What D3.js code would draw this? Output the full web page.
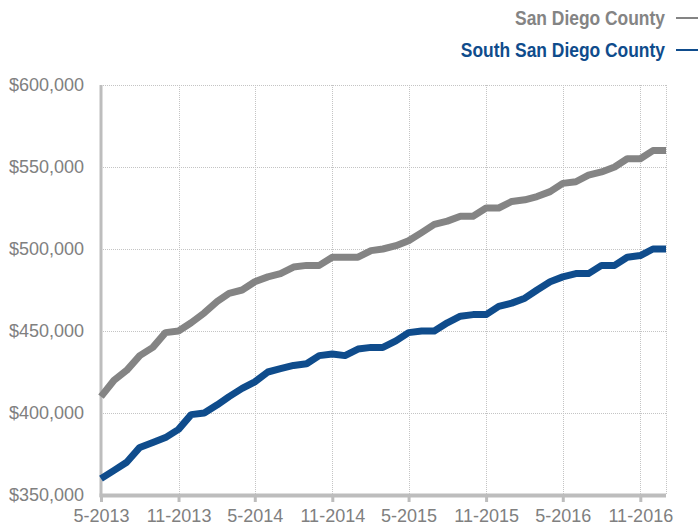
<!DOCTYPE html>
<html>
<head>
<meta charset="utf-8">
<script src="https://cdn.jsdelivr.net/npm/d3@7"></script>
<style>
  body { margin: 0; background: #fff; }
  svg { display: block; }
</style>
</head>
<body>
<script>
const w = 698; // width
const h = 527; // height
const m = {left: 101, right: 32, top: 85, bottom: 32};

// months, May 2013 - Jan 2017
const months = [
  "5-2013", "6-2013", "7-2013", "8-2013", "9-2013", "10-2013", "11-2013", "12-2013",
  "1-2014", "2-2014", "3-2014", "4-2014", "5-2014", "6-2014", "7-2014", "8-2014",
  "9-2014", "10-2014", "11-2014", "12-2014", "1-2015", "2-2015", "3-2015", "4-2015",
  "5-2015", "6-2015", "7-2015", "8-2015", "9-2015", "10-2015", "11-2015", "12-2015",
  "1-2016", "2-2016", "3-2016", "4-2016", "5-2016", "6-2016", "7-2016", "8-2016",
  "9-2016", "10-2016", "11-2016", "12-2016", "1-2017"
];

// median price, San Diego County
const sanDiego = [
  410000, 420000, 426000, 435000, 440000, 449000, 450000, 455000,
  461000, 468000, 473000, 475000, 480000, 483000, 485000, 489000,
  490000, 490000, 495000, 495000, 495000, 499000, 500000, 502000,
  505000, 510000, 515000, 517000, 520000, 520000, 525000, 525000,
  529000, 530000, 532000, 535000, 540000, 541000, 545000, 547000,
  550000, 555000, 555000, 560000, 560000
];

// median price, South San Diego County
const southSanDiego = [
  360000, 365000, 370000, 379000, 382000, 385000, 390000, 399000,
  400000, 405000, 410000, 415000, 419000, 425000, 427000, 429000,
  430000, 435000, 436000, 435000, 439000, 440000, 440000, 444000,
  449000, 450000, 450000, 455000, 459000, 460000, 460000, 465000,
  467000, 470000, 475000, 480000, 483000, 485000, 485000, 490000,
  490000, 495000, 496000, 500000, 500000
];

const xTickLabels = ["5-2013", "11-2013", "5-2014", "11-2014", "5-2015", "11-2015", "5-2016", "11-2016"];
const yTickValues = [350000, 400000, 450000, 500000, 550000, 600000];

const seriesNames = ["San Diego County", "South San Diego County"];
const seriesColors = ["#848484", "#0f4c8c"];

const parseMonth = d3.timeParse("%m-%Y");
const dates = months.map(parseMonth);
const xTicks = xTickLabels.map(parseMonth);

let svg = d3.select("body")
    .append("svg")
    .attr("width", w)
    .attr("height", h);

// scales
let x = d3.scaleTime()
    .domain(d3.extent(dates))
    .range([m.left, w - m.right]);

let y = d3.scaleLinear()
    .domain([350000, 600000])
    .range([h - m.bottom, m.top]);

// grid
let grid = svg.append("g")
    .attr("stroke", "#c4c4c4")
    .attr("stroke-width", 1)
    .attr("stroke-dasharray", "1,1");

grid.selectAll(".hgrid")
    .data(yTickValues)
    .enter()
    .append("line")
    .attr("x1", m.left)
    .attr("x2", w - m.right)
    .attr("y1", d => y(d) + 0.5)
    .attr("y2", d => y(d) + 0.5);

grid.selectAll(".vgrid")
    .data(xTicks.concat([dates[dates.length - 1]]))
    .enter()
    .append("line")
    .attr("x1", d => Math.round(x(d)) + 0.5)
    .attr("x2", d => Math.round(x(d)) + 0.5)
    .attr("y1", m.top)
    .attr("y2", h - m.bottom);

// y axis
let gY = svg.append("g")
    .attr("transform", `translate(${m.left}, 0)`)
    .call(d3.axisLeft(y)
        .tickValues(yTickValues)
        .tickFormat(d3.format("$,"))
        .tickSize(0)
        .tickPadding(17));
gY.select(".domain").remove();
gY.selectAll("text")
    .attr("fill", "#808080")
    .style("font-family", "'Liberation Sans', Arial, sans-serif")
    .style("font-size", "18px");

// x axis
let gX = svg.append("g")
    .attr("transform", `translate(0, ${h - m.bottom + 2})`)
    .call(d3.axisBottom(x)
        .tickValues(xTicks)
        .tickFormat(d3.timeFormat("%-m-%Y"))
        .tickSize(5)
        .tickPadding(7));
gX.select(".domain").remove();
gX.selectAll(".tick line")
    .attr("stroke", "#bdbdbd")
    .attr("stroke-width", 3);
gX.selectAll("text")
    .attr("fill", "#808080")
    .style("font-family", "'Liberation Sans', Arial, sans-serif")
    .style("font-size", "18px");

// axis bars
svg.append("line")
    .attr("x1", m.left)
    .attr("x2", m.left)
    .attr("y1", m.top)
    .attr("y2", h - m.bottom + 2)
    .attr("stroke", "#bdbdbd")
    .attr("stroke-width", 3);

svg.append("line")
    .attr("x1", m.left - 1.5)
    .attr("x2", w - m.right)
    .attr("y1", h - m.bottom + 0.5)
    .attr("y2", h - m.bottom + 0.5)
    .attr("stroke", "#bdbdbd")
    .attr("stroke-width", 4);

// lines
let line = d3.line()
    .x((d, i) => x(dates[i]))
    .y(d => y(d));

svg.selectAll(".series")
    .data([sanDiego, southSanDiego])
    .enter()
    .append("path")
    .attr("fill", "none")
    .attr("stroke", (d, i) => seriesColors[i])
    .attr("stroke-width", 7)
    .attr("stroke-linejoin", "round")
    .attr("d", line);

// legend (squeezed horizontally for a condensed bold look)
let legend = svg.selectAll(".legend")
    .data(seriesNames)
    .enter()
    .append("g")
    .attr("transform", (d, i) => `translate(0, ${25 + i * 32})`);

legend.append("text")
    .attr("transform", "translate(665, 0) scale(0.83, 1)")
    .attr("text-anchor", "end")
    .attr("fill", (d, i) => seriesColors[i])
    .style("font-family", "'Liberation Sans', Arial, sans-serif")
    .style("font-weight", "bold")
    .style("font-size", "21px")
    .text(d => d);

legend.append("line")
    .attr("x1", 676)
    .attr("x2", 698)
    .attr("y1", -7)
    .attr("y2", -7)
    .attr("stroke", (d, i) => seriesColors[i])
    .attr("stroke-width", 2);
</script>
</body>
</html>
